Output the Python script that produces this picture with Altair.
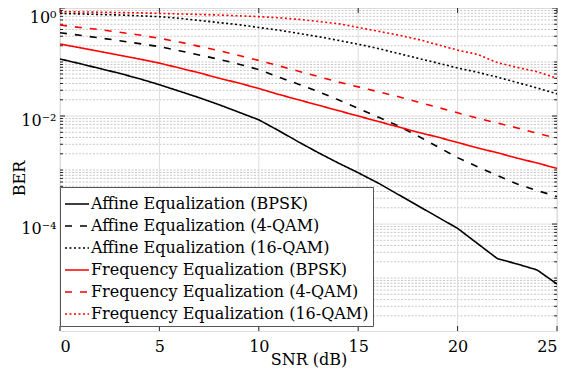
import altair as alt
import pandas as pd

# ---------------- data (BER as log10 values) ----------------
snr = list(range(26))
affine_bpsk_log = [-0.944, -1.03, -1.12, -1.21, -1.31, -1.42, -1.54, -1.66, -1.79, -1.93,
                   -2.07, -2.27, -2.48, -2.68, -2.87, -3.05, -3.24, -3.45, -3.66, -3.87,
                   -4.08, -4.36, -4.64, -4.74, -4.85, -5.11]
affine_4qam_log = [-0.457, -0.505, -0.555, -0.605, -0.66, -0.716, -0.79, -0.87, -0.95, -1.04,
                   -1.14, -1.28, -1.41, -1.55, -1.70, -1.86, -2.02, -2.18, -2.37, -2.57,
                   -2.77, -2.94, -3.10, -3.26, -3.38, -3.49]
affine_16qam_log = [-0.10, -0.11, -0.12, -0.13, -0.145, -0.16, -0.19, -0.23, -0.27, -0.31,
                    -0.36, -0.41, -0.47, -0.53, -0.60, -0.67, -0.75, -0.84, -0.93, -1.02,
                    -1.11, -1.19, -1.28, -1.38, -1.48, -1.59]
freq_bpsk_log = [-0.667, -0.735, -0.805, -0.875, -0.945, -1.02, -1.11, -1.20, -1.30, -1.39,
                 -1.49, -1.60, -1.70, -1.80, -1.90, -2.00, -2.10, -2.20, -2.30, -2.39,
                 -2.49, -2.59, -2.68, -2.78, -2.87, -2.97]
freq_4qam_log = [-0.315, -0.36, -0.40, -0.45, -0.50, -0.56, -0.63, -0.71, -0.79, -0.88,
                 -0.97, -1.07, -1.17, -1.27, -1.37, -1.46, -1.55, -1.64, -1.74, -1.84,
                 -1.94, -2.04, -2.13, -2.22, -2.32, -2.41]
freq_16qam_log = [-0.068, -0.073, -0.078, -0.084, -0.09, -0.10, -0.11, -0.12, -0.13, -0.145,
                  -0.16, -0.18, -0.21, -0.25, -0.29, -0.36, -0.43, -0.50, -0.58, -0.68,
                  -0.78, -0.86, -1.01, -1.10, -1.18, -1.30]

series_names = [
    "Affine Equalization (BPSK)",
    "Affine Equalization (4-QAM)",
    "Affine Equalization (16-QAM)",
    "Frequency Equalization (BPSK)",
    "Frequency Equalization (4-QAM)",
    "Frequency Equalization (16-QAM)",
]
series_logs = [affine_bpsk_log, affine_4qam_log, affine_16qam_log,
               freq_bpsk_log, freq_4qam_log, freq_16qam_log]
series_colors = ["#000000", "#000000", "#000000", "#ff0000", "#ff0000", "#ff0000"]
series_dashes = [[1, 0], [7, 8], [2, 2.5], [1, 0], [7, 8], [2, 2.5]]

x_ticks = [0, 5, 10, 15, 20, 25]
y_major = [1, 1e-2, 1e-4]
y_min = 10 ** -5.98
y_minor = [k * 10.0 ** n for n in range(-6, 0) for k in range(1, 10)
           if not (k == 1 and n % 2 == 0) and k * 10.0 ** n > y_min]

# ---------------- frames ----------------
rows = []
for name, logs in zip(series_names, series_logs):
    for s, lv in zip(snr, logs):
        rows.append({"snr": s, "ber": 10 ** lv, "series": name})
df = pd.DataFrame(rows)
major_df = pd.DataFrame({"v": y_major})
minor_df = pd.DataFrame({"v": y_minor})
xt_df = pd.DataFrame({"x": x_ticks})

W, H = 497, 323
FONT = "DejaVu Serif"
AX = "#262626"

xscale = alt.Scale(domain=[0, 25], nice=False, zero=False)
yscale = alt.Scale(type="log", domain=[y_min, 1], nice=False)

xaxis = alt.Axis(values=x_ticks, grid=False, ticks=False, domain=False,
                 labelFont=FONT, labelFontSize=16, labelPadding=7, labelColor="#000",
                 title="SNR (dB)", titleFont=FONT, titleFontSize=16,
                 titleFontWeight="normal", titleY=20, titleBaseline="top",
                 titleColor="#000")
label_expr = ("datum.value >= 0.5 ? '10⁰' : (datum.value >= 0.005 ? '10⁻²' : '10⁻⁴')")
yaxis = alt.Axis(values=y_major, grid=False, ticks=False, domain=False,
                 labelExpr=label_expr, labelFont=FONT, labelFontSize=16,
                 labelPadding=4,
                 labelOffset={"condition": {"test": "datum.value >= 0.5", "value": 9},
                              "value": 4},
                 labelColor="#000",
                 title="BER", titleFont=FONT, titleFontSize=16,
                 titleFontWeight="normal", titleX=-41, titleY=170,
                 titleBaseline="middle", titleColor="#000")

minor_grid = alt.Chart(minor_df).mark_rule(color="#c8c8c8", strokeWidth=1,
                                           strokeDash=[2, 1.5]).encode(
    y=alt.Y("v:Q", scale=yscale, axis=yaxis))
major_grid = alt.Chart(major_df).mark_rule(color="#dcdcdc", strokeWidth=1).encode(
    y=alt.Y("v:Q", scale=yscale))
x_grid = alt.Chart(xt_df).mark_rule(color="#dcdcdc", strokeWidth=1).encode(
    x=alt.X("x:Q", scale=xscale, axis=xaxis))

legend = alt.Legend(title=None, orient="none", legendX=0, legendY=179,
                    symbolType="stroke", symbolSize=576, symbolStrokeWidth=1.6,
                    labelFont=FONT, labelFontSize=16, labelColor="#000",
                    labelOffset=1, labelLimit=500, rowPadding=1, padding=4,
                    fillColor="#ffffff", strokeColor="#555555")

lines = alt.Chart(df).mark_line(strokeWidth=1.6, clip=True).encode(
    x=alt.X("snr:Q", scale=xscale),
    y=alt.Y("ber:Q", scale=yscale),
    color=alt.Color("series:N", sort=series_names,
                    scale=alt.Scale(domain=series_names, range=series_colors),
                    legend=legend),
    strokeDash=alt.StrokeDash("series:N", sort=series_names,
                              scale=alt.Scale(domain=series_names, range=series_dashes),
                              legend=legend),
)

def ytick(data, x0, x1):
    return alt.Chart(data).mark_rule(color=AX, strokeWidth=1).encode(
        y=alt.Y("v:Q", scale=yscale), x=alt.value(x0), x2=alt.value(x1))

def xtick(y0, y1):
    return alt.Chart(xt_df).mark_rule(color=AX, strokeWidth=1).encode(
        x=alt.X("x:Q", scale=xscale), y=alt.value(y0), y2=alt.value(y1))

ticks = [ytick(major_df, 0, 5), ytick(major_df, W, W - 5),
         ytick(minor_df, 0, 3), ytick(minor_df, W, W - 3),
         xtick(H, H - 5), xtick(0, 5)]

chart = alt.layer(minor_grid, major_grid, x_grid, *ticks, lines).properties(
    width=W, height=H,
    autosize=alt.AutoSizeParams(type="none"),
    padding={"left": 52, "top": 0, "right": 3, "bottom": 41},
).configure_view(stroke=AX, strokeWidth=1).configure(background="white")

chart.save("out.html", embed_options={"renderer": "svg", "actions": False})
